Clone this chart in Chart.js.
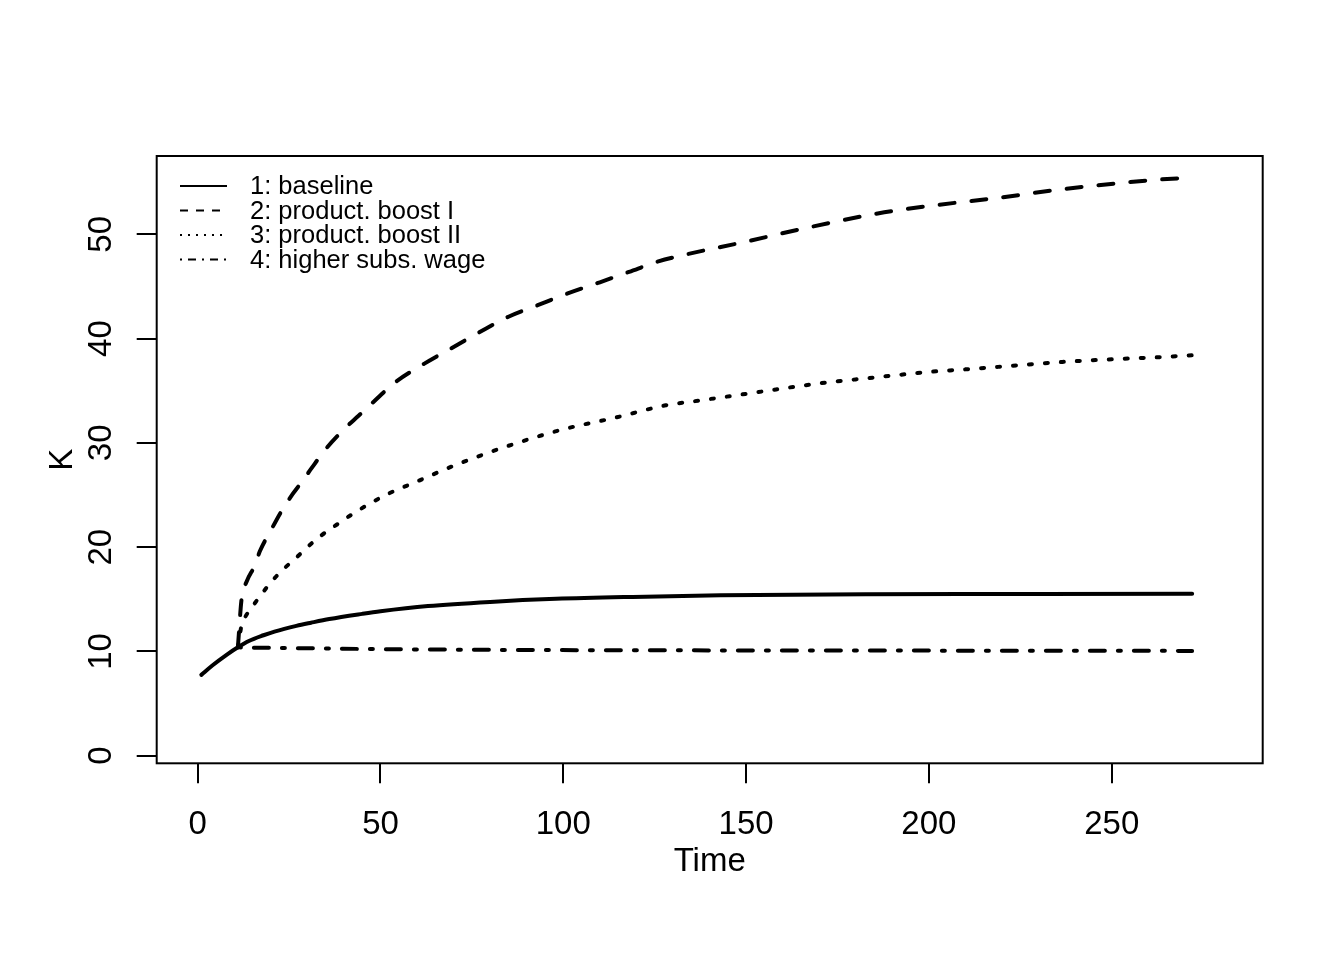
<!DOCTYPE html>
<html>
<head>
<meta charset="utf-8">
<title>K over time</title>
<script src="https://cdn.jsdelivr.net/npm/chart.js@4.4.0/dist/chart.umd.min.js"></script>
<style>
    html, body { margin: 0; padding: 0; background: #fff; }
    canvas { display: block; }
</style>
</head>
<body>
<canvas id="kChart" width="1344" height="960"></canvas>
<script>
// Series (time, K)
const baselineT = [1, 4, 8, 11, 14, 18, 21, 27, 31, 36, 45, 50, 63, 80, 98, 119, 143, 183, 220, 272];
const baselineK = [7.75, 8.65, 9.7, 10.4, 11.0, 11.55, 11.9, 12.45, 12.75, 13.1, 13.6, 13.85, 14.35, 14.75, 15.04, 15.23, 15.38, 15.48, 15.5, 15.52];

const boostIT = [11, 12, 13.4, 15.7, 17, 20, 23, 26, 29, 31, 35, 40, 44, 48, 54, 62, 69, 77, 85, 93, 101, 110, 118, 126, 134, 150, 165, 186, 202, 219, 236, 252, 261, 272];
const boostIK = [10.4, 15.0, 16.7, 18.3, 19.6, 21.6, 23.5, 25.1, 26.5, 27.5, 29.4, 31.3, 32.6, 33.9, 35.8, 37.6, 39.0, 40.6, 42.1, 43.2, 44.3, 45.4, 46.4, 47.4, 48.1, 49.3, 50.5, 52.0, 52.8, 53.5, 54.3, 54.9, 55.2, 55.45];

const boostIIT = [11, 12, 13, 14.75, 17.5, 20.2, 23.5, 27, 30, 33.7, 37, 40.7, 44.3, 48.2, 52, 60, 70, 84, 100, 114, 128, 136, 150, 170, 186, 200, 212, 223, 236, 249, 262, 272];
const boostIIK = [10.4, 12.5, 13.3, 14.2, 15.5, 16.7, 17.9, 19.0, 20.0, 21.1, 21.9, 22.8, 23.6, 24.4, 25.1, 26.3, 27.8, 29.6, 31.3, 32.4, 33.6, 34.0, 34.7, 35.7, 36.3, 36.8, 37.1, 37.4, 37.75, 38.0, 38.2, 38.4];

const wageT = [11, 12, 15, 20, 30, 50, 80, 120, 190, 272];
const wageK = [10.4, 10.38, 10.36, 10.34, 10.3, 10.22, 10.15, 10.11, 10.08, 10.05];

const legendLabels = ['1: baseline', '2: product. boost I', '3: product. boost II', '4: higher subs. wage'];
const xTicks = [0, 50, 100, 150, 200, 250];
const yTicks = [0, 10, 20, 30, 40, 50];

const FONT = '"Liberation Sans", Arial, Helvetica, sans-serif';

// Pair up times and values for a linear x scale
function toPoints(ts, ks) {
    return ts.map((t, i) => ({ x: t, y: ks[i] }));
}

// Dash patterns (plot width / legend width)
const seriesStyles = [
    { dash: [], legendDash: [] },
    { dash: [15, 17], legendDash: [8, 8] },
    { dash: [3, 13], legendDash: [2, 6] },
    { dash: [3, 13, 15, 13], legendDash: [2, 6, 8, 6] }
];

// Box, tick labels, axis titles and legend, R style
const baseGraphicsPlugin = {
    id: 'baseGraphics',
    afterDraw(chart) {
        const ctx = chart.ctx;
        const area = chart.chartArea;
        const xScale = chart.scales.x;
        const yScale = chart.scales.y;

        ctx.save();
        ctx.strokeStyle = '#000';
        ctx.fillStyle = '#000';
        ctx.lineWidth = 2;
        ctx.setLineDash([]);
        ctx.strokeRect(area.left, area.top, area.right - area.left, area.bottom - area.top);

        // x tick labels
        ctx.font = '33px ' + FONT;
        ctx.textAlign = 'center';
        ctx.textBaseline = 'alphabetic';
        xScale.ticks.forEach(tick => {
            ctx.fillText(String(tick.value), xScale.getPixelForValue(tick.value), 834);
        });

        // y tick labels, rotated like R
        yScale.ticks.forEach(tick => {
            ctx.save();
            ctx.translate(111, yScale.getPixelForValue(tick.value));
            ctx.rotate(-Math.PI / 2);
            ctx.fillText(String(tick.value), 0, 0);
            ctx.restore();
        });

        // axis titles
        ctx.fillText('Time', (area.left + area.right) / 2, 871);
        ctx.save();
        ctx.translate(72, (area.top + area.bottom) / 2);
        ctx.rotate(-Math.PI / 2);
        ctx.fillText('K', 0, 0);
        ctx.restore();

        // legend
        const rows = [186, 210.5, 235, 259.5];
        ctx.font = '25.5px ' + FONT;
        ctx.textAlign = 'left';
        ctx.textBaseline = 'middle';
        ctx.lineCap = 'butt';
        legendLabels.forEach((label, i) => {
            ctx.setLineDash(seriesStyles[i].legendDash);
            ctx.beginPath();
            ctx.moveTo(180, rows[i]);
            ctx.lineTo(227, rows[i]);
            ctx.stroke();
            ctx.fillText(label, 250, rows[i] + 1);
        });
        ctx.restore();
    }
};

// Build the chart
function createKChart() {
    const ctx = document.getElementById('kChart').getContext('2d');
    const series = [
        toPoints(baselineT, baselineK),
        toPoints(boostIT, boostIK),
        toPoints(boostIIT, boostIIK),
        toPoints(wageT, wageK)
    ];

    new Chart(ctx, {
        type: 'line',
        data: {
            datasets: series.map((points, i) => ({
                label: legendLabels[i],
                data: points,
                borderColor: '#000',
                borderWidth: 4,
                borderDash: seriesStyles[i].dash,
                borderCapStyle: 'round',
                borderJoinStyle: 'round',
                cubicInterpolationMode: 'monotone',
                pointRadius: 0,
                fill: false
            }))
        },
        options: {
            responsive: false,
            animation: false,
            devicePixelRatio: 1,
            layout: {
                padding: { left: 0, top: 156, right: 81.3, bottom: 0 }
            },
            plugins: {
                legend: { display: false },
                tooltip: { enabled: false }
            },
            scales: {
                x: {
                    type: 'linear',
                    min: -11.21,
                    max: 291.3,
                    afterBuildTicks: scale => { scale.ticks = xTicks.map(v => ({ value: v })); },
                    afterFit: scale => { scale.height = 196.7; },
                    grid: { drawOnChartArea: false, drawTicks: true, tickLength: 20, color: '#000', lineWidth: 2 },
                    border: { display: false },
                    ticks: { display: false }
                },
                y: {
                    type: 'linear',
                    min: -0.73,
                    max: 57.51,
                    afterBuildTicks: scale => { scale.ticks = yTicks.map(v => ({ value: v })); },
                    afterFit: scale => { scale.width = 156.7; },
                    grid: { drawOnChartArea: false, drawTicks: true, tickLength: 20, color: '#000', lineWidth: 2 },
                    border: { display: false },
                    ticks: { display: false }
                }
            }
        },
        plugins: [baseGraphicsPlugin]
    });
}

document.addEventListener('DOMContentLoaded', createKChart);
</script>
</body>
</html>
